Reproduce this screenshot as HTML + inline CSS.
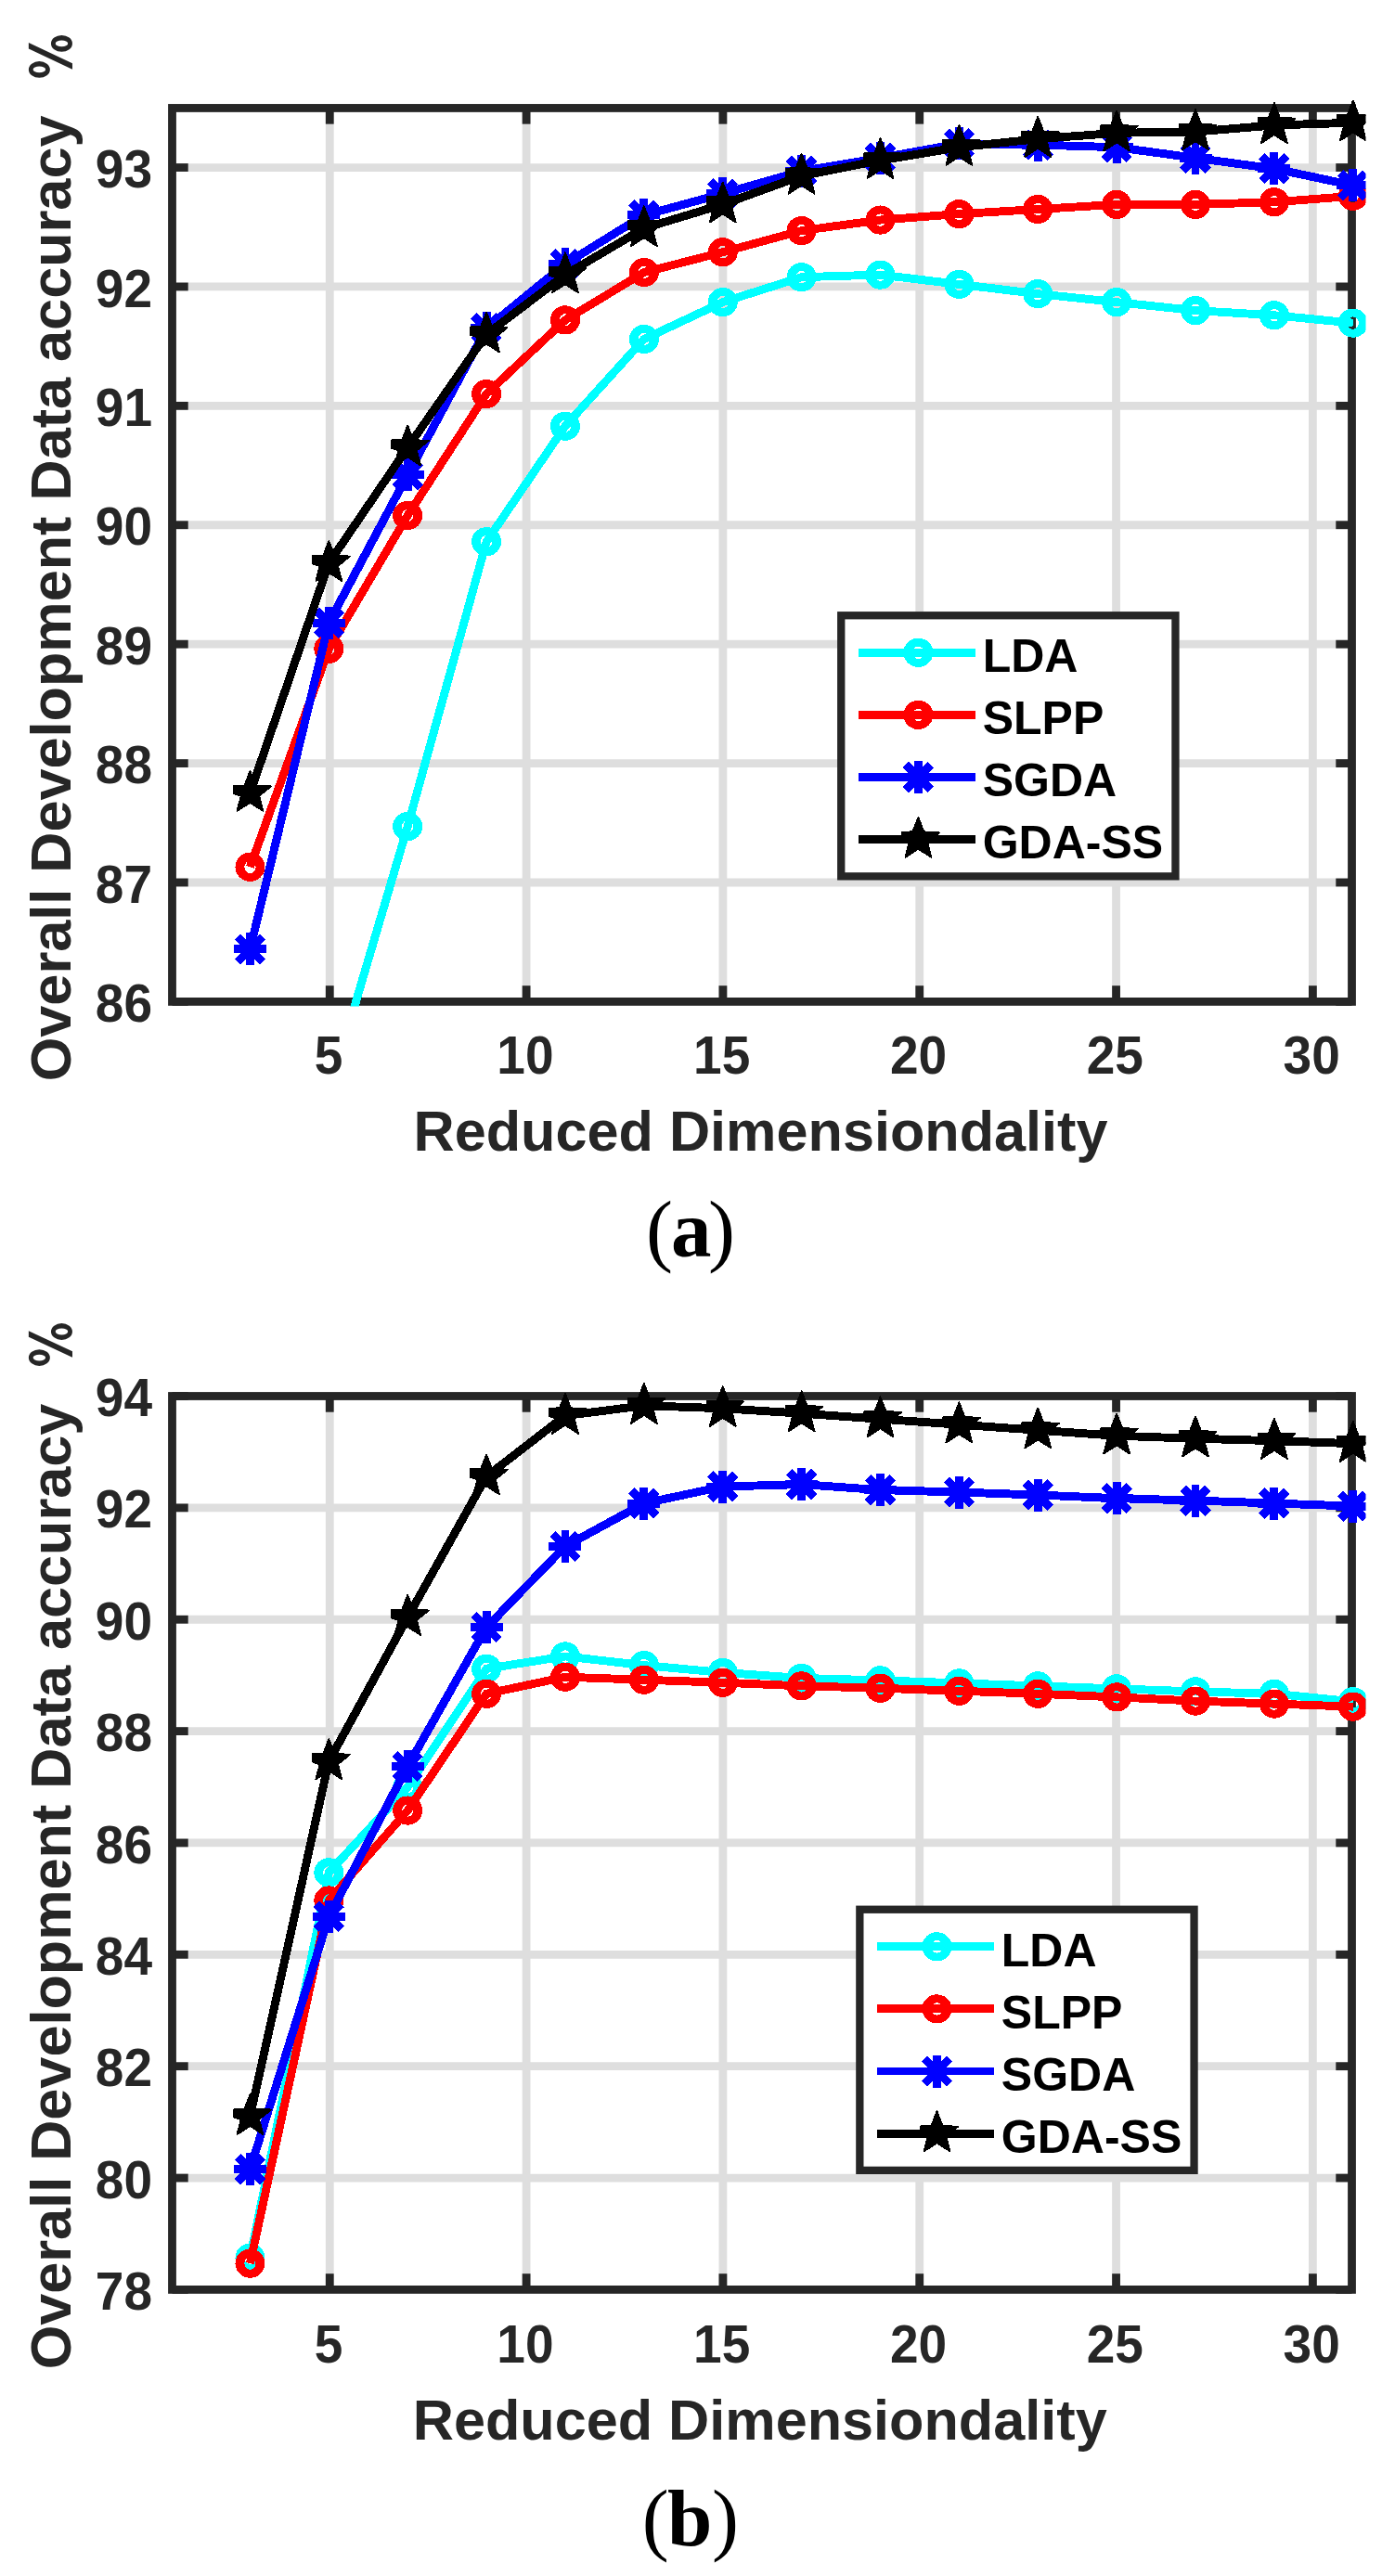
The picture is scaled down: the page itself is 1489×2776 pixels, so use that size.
<!DOCTYPE html><html><head><meta charset="utf-8"><style>html,body{margin:0;padding:0;background:#fff;overflow:hidden;width:1489px;height:2776px}svg{display:block}</style></head><body><svg width="1489" height="2776" viewBox="0 0 1489 2776">
<defs>
<clipPath id="ca"><rect x="0" y="0" width="1471.5" height="1084.5"/></clipPath>
<clipPath id="cb"><rect x="0" y="1380" width="1471.5" height="1092.3"/></clipPath>
</defs>
<style>
.tk{font-family:"Liberation Sans",sans-serif;font-weight:bold;font-size:57px;fill:#262626}
.lb{font-family:"Liberation Sans",sans-serif;font-weight:bold;font-size:61.2px;fill:#262626}
.lg{font-family:"Liberation Sans",sans-serif;font-weight:bold;font-size:50px;fill:#000}
.cap{font-family:"Liberation Serif",serif;font-size:87px;fill:#000}
</style>
<rect width="100%" height="100%" fill="#fff"/>
<line x1="355.26" y1="116.45" x2="355.26" y2="1079.4" stroke="#dedede" stroke-width="8.8"/>
<line x1="567.09" y1="116.45" x2="567.09" y2="1079.4" stroke="#dedede" stroke-width="8.8"/>
<line x1="778.91" y1="116.45" x2="778.91" y2="1079.4" stroke="#dedede" stroke-width="8.8"/>
<line x1="990.74" y1="116.45" x2="990.74" y2="1079.4" stroke="#dedede" stroke-width="8.8"/>
<line x1="1202.56" y1="116.45" x2="1202.56" y2="1079.4" stroke="#dedede" stroke-width="8.8"/>
<line x1="1414.38" y1="116.45" x2="1414.38" y2="1079.4" stroke="#dedede" stroke-width="8.8"/>
<line x1="185.5" y1="950.99" x2="1456.5" y2="950.99" stroke="#dedede" stroke-width="8.8"/>
<line x1="185.5" y1="822.58" x2="1456.5" y2="822.58" stroke="#dedede" stroke-width="8.8"/>
<line x1="185.5" y1="694.17" x2="1456.5" y2="694.17" stroke="#dedede" stroke-width="8.8"/>
<line x1="185.5" y1="565.76" x2="1456.5" y2="565.76" stroke="#dedede" stroke-width="8.8"/>
<line x1="185.5" y1="437.35" x2="1456.5" y2="437.35" stroke="#dedede" stroke-width="8.8"/>
<line x1="185.5" y1="308.94" x2="1456.5" y2="308.94" stroke="#dedede" stroke-width="8.8"/>
<line x1="185.5" y1="180.53" x2="1456.5" y2="180.53" stroke="#dedede" stroke-width="8.8"/>
<line x1="355.26" y1="1079.4" x2="355.26" y2="1062.2" stroke="#262626" stroke-width="8.8"/>
<line x1="355.26" y1="116.45" x2="355.26" y2="133.65" stroke="#262626" stroke-width="8.8"/>
<line x1="567.09" y1="1079.4" x2="567.09" y2="1062.2" stroke="#262626" stroke-width="8.8"/>
<line x1="567.09" y1="116.45" x2="567.09" y2="133.65" stroke="#262626" stroke-width="8.8"/>
<line x1="778.91" y1="1079.4" x2="778.91" y2="1062.2" stroke="#262626" stroke-width="8.8"/>
<line x1="778.91" y1="116.45" x2="778.91" y2="133.65" stroke="#262626" stroke-width="8.8"/>
<line x1="990.74" y1="1079.4" x2="990.74" y2="1062.2" stroke="#262626" stroke-width="8.8"/>
<line x1="990.74" y1="116.45" x2="990.74" y2="133.65" stroke="#262626" stroke-width="8.8"/>
<line x1="1202.56" y1="1079.4" x2="1202.56" y2="1062.2" stroke="#262626" stroke-width="8.8"/>
<line x1="1202.56" y1="116.45" x2="1202.56" y2="133.65" stroke="#262626" stroke-width="8.8"/>
<line x1="1414.38" y1="1079.4" x2="1414.38" y2="1062.2" stroke="#262626" stroke-width="8.8"/>
<line x1="1414.38" y1="116.45" x2="1414.38" y2="133.65" stroke="#262626" stroke-width="8.8"/>
<line x1="185.5" y1="1079.40" x2="202.7" y2="1079.40" stroke="#262626" stroke-width="8.8"/>
<line x1="1456.5" y1="1079.40" x2="1439.3" y2="1079.40" stroke="#262626" stroke-width="8.8"/>
<line x1="185.5" y1="950.99" x2="202.7" y2="950.99" stroke="#262626" stroke-width="8.8"/>
<line x1="1456.5" y1="950.99" x2="1439.3" y2="950.99" stroke="#262626" stroke-width="8.8"/>
<line x1="185.5" y1="822.58" x2="202.7" y2="822.58" stroke="#262626" stroke-width="8.8"/>
<line x1="1456.5" y1="822.58" x2="1439.3" y2="822.58" stroke="#262626" stroke-width="8.8"/>
<line x1="185.5" y1="694.17" x2="202.7" y2="694.17" stroke="#262626" stroke-width="8.8"/>
<line x1="1456.5" y1="694.17" x2="1439.3" y2="694.17" stroke="#262626" stroke-width="8.8"/>
<line x1="185.5" y1="565.76" x2="202.7" y2="565.76" stroke="#262626" stroke-width="8.8"/>
<line x1="1456.5" y1="565.76" x2="1439.3" y2="565.76" stroke="#262626" stroke-width="8.8"/>
<line x1="185.5" y1="437.35" x2="202.7" y2="437.35" stroke="#262626" stroke-width="8.8"/>
<line x1="1456.5" y1="437.35" x2="1439.3" y2="437.35" stroke="#262626" stroke-width="8.8"/>
<line x1="185.5" y1="308.94" x2="202.7" y2="308.94" stroke="#262626" stroke-width="8.8"/>
<line x1="1456.5" y1="308.94" x2="1439.3" y2="308.94" stroke="#262626" stroke-width="8.8"/>
<line x1="185.5" y1="180.53" x2="202.7" y2="180.53" stroke="#262626" stroke-width="8.8"/>
<line x1="1456.5" y1="180.53" x2="1439.3" y2="180.53" stroke="#262626" stroke-width="8.8"/>
<rect x="185.5" y="116.45" width="1271.0" height="962.95" fill="none" stroke="#262626" stroke-width="8.8"/>
<text transform="translate(164,1101.00) scale(0.965,1.017)" text-anchor="end" class="tk">86</text>
<text transform="translate(164,972.59) scale(0.965,1.017)" text-anchor="end" class="tk">87</text>
<text transform="translate(164,844.18) scale(0.965,1.017)" text-anchor="end" class="tk">88</text>
<text transform="translate(164,715.77) scale(0.965,1.017)" text-anchor="end" class="tk">89</text>
<text transform="translate(164,587.36) scale(0.965,1.017)" text-anchor="end" class="tk">90</text>
<text transform="translate(164,458.95) scale(0.965,1.017)" text-anchor="end" class="tk">91</text>
<text transform="translate(164,330.54) scale(0.965,1.017)" text-anchor="end" class="tk">92</text>
<text transform="translate(164,202.13) scale(0.965,1.017)" text-anchor="end" class="tk">93</text>
<text transform="translate(354.06,1156.60) scale(0.965,1.017)" text-anchor="middle" class="tk">5</text>
<text transform="translate(565.88,1156.60) scale(0.965,1.017)" text-anchor="middle" class="tk">10</text>
<text transform="translate(777.71,1156.60) scale(0.965,1.017)" text-anchor="middle" class="tk">15</text>
<text transform="translate(989.54,1156.60) scale(0.965,1.017)" text-anchor="middle" class="tk">20</text>
<text transform="translate(1201.36,1156.60) scale(0.965,1.017)" text-anchor="middle" class="tk">25</text>
<text transform="translate(1413.18,1156.60) scale(0.965,1.017)" text-anchor="middle" class="tk">30</text>
<g clip-path="url(#ca)" shape-rendering="crispEdges"><path d="M269.45 1464.63 L354.33 1178.28 L439.21 890.64 L524.09 583.74 L608.97 459.18 L693.85 365.44 L778.73 325.63 L863.61 298.67 L948.49 296.10 L1033.37 306.37 L1118.25 316.64 L1203.13 325.63 L1288.01 334.62 L1372.89 339.76 L1457.77 348.11" fill="none" stroke="#00ffff" stroke-width="8.9" stroke-linejoin="miter" stroke-miterlimit="10"/>
<path d="M253.45 1464.63A16.0 15.6 0 1 0 285.45 1464.63A16.0 15.6 0 1 0 253.45 1464.63ZM263.35 1464.63A6.1 6.7 0 1 0 275.55 1464.63A6.1 6.7 0 1 0 263.35 1464.63Z" fill="#00ffff" fill-rule="evenodd"/>
<path d="M338.33 1178.28A16.0 15.6 0 1 0 370.33 1178.28A16.0 15.6 0 1 0 338.33 1178.28ZM348.23 1178.28A6.1 6.7 0 1 0 360.43 1178.28A6.1 6.7 0 1 0 348.23 1178.28Z" fill="#00ffff" fill-rule="evenodd"/>
<path d="M423.21 890.64A16.0 15.6 0 1 0 455.21 890.64A16.0 15.6 0 1 0 423.21 890.64ZM433.11 890.64A6.1 6.7 0 1 0 445.31 890.64A6.1 6.7 0 1 0 433.11 890.64Z" fill="#00ffff" fill-rule="evenodd"/>
<path d="M508.09 583.74A16.0 15.6 0 1 0 540.09 583.74A16.0 15.6 0 1 0 508.09 583.74ZM517.99 583.74A6.1 6.7 0 1 0 530.19 583.74A6.1 6.7 0 1 0 517.99 583.74Z" fill="#00ffff" fill-rule="evenodd"/>
<path d="M592.97 459.18A16.0 15.6 0 1 0 624.97 459.18A16.0 15.6 0 1 0 592.97 459.18ZM602.87 459.18A6.1 6.7 0 1 0 615.07 459.18A6.1 6.7 0 1 0 602.87 459.18Z" fill="#00ffff" fill-rule="evenodd"/>
<path d="M677.85 365.44A16.0 15.6 0 1 0 709.85 365.44A16.0 15.6 0 1 0 677.85 365.44ZM687.75 365.44A6.1 6.7 0 1 0 699.95 365.44A6.1 6.7 0 1 0 687.75 365.44Z" fill="#00ffff" fill-rule="evenodd"/>
<path d="M762.73 325.63A16.0 15.6 0 1 0 794.73 325.63A16.0 15.6 0 1 0 762.73 325.63ZM772.63 325.63A6.1 6.7 0 1 0 784.83 325.63A6.1 6.7 0 1 0 772.63 325.63Z" fill="#00ffff" fill-rule="evenodd"/>
<path d="M847.61 298.67A16.0 15.6 0 1 0 879.61 298.67A16.0 15.6 0 1 0 847.61 298.67ZM857.51 298.67A6.1 6.7 0 1 0 869.71 298.67A6.1 6.7 0 1 0 857.51 298.67Z" fill="#00ffff" fill-rule="evenodd"/>
<path d="M932.49 296.10A16.0 15.6 0 1 0 964.49 296.10A16.0 15.6 0 1 0 932.49 296.10ZM942.39 296.10A6.1 6.7 0 1 0 954.59 296.10A6.1 6.7 0 1 0 942.39 296.10Z" fill="#00ffff" fill-rule="evenodd"/>
<path d="M1017.37 306.37A16.0 15.6 0 1 0 1049.37 306.37A16.0 15.6 0 1 0 1017.37 306.37ZM1027.27 306.37A6.1 6.7 0 1 0 1039.47 306.37A6.1 6.7 0 1 0 1027.27 306.37Z" fill="#00ffff" fill-rule="evenodd"/>
<path d="M1102.25 316.64A16.0 15.6 0 1 0 1134.25 316.64A16.0 15.6 0 1 0 1102.25 316.64ZM1112.15 316.64A6.1 6.7 0 1 0 1124.35 316.64A6.1 6.7 0 1 0 1112.15 316.64Z" fill="#00ffff" fill-rule="evenodd"/>
<path d="M1187.13 325.63A16.0 15.6 0 1 0 1219.13 325.63A16.0 15.6 0 1 0 1187.13 325.63ZM1197.03 325.63A6.1 6.7 0 1 0 1209.23 325.63A6.1 6.7 0 1 0 1197.03 325.63Z" fill="#00ffff" fill-rule="evenodd"/>
<path d="M1272.01 334.62A16.0 15.6 0 1 0 1304.01 334.62A16.0 15.6 0 1 0 1272.01 334.62ZM1281.91 334.62A6.1 6.7 0 1 0 1294.11 334.62A6.1 6.7 0 1 0 1281.91 334.62Z" fill="#00ffff" fill-rule="evenodd"/>
<path d="M1356.89 339.76A16.0 15.6 0 1 0 1388.89 339.76A16.0 15.6 0 1 0 1356.89 339.76ZM1366.79 339.76A6.1 6.7 0 1 0 1378.99 339.76A6.1 6.7 0 1 0 1366.79 339.76Z" fill="#00ffff" fill-rule="evenodd"/>
<path d="M1441.77 348.11A16.0 15.6 0 1 0 1473.77 348.11A16.0 15.6 0 1 0 1441.77 348.11ZM1451.67 348.11A6.1 6.7 0 1 0 1463.87 348.11A6.1 6.7 0 1 0 1451.67 348.11Z" fill="#00ffff" fill-rule="evenodd"/>
<path d="M269.45 934.30 L354.33 699.31 L439.21 555.49 L524.09 424.51 L608.97 344.89 L693.85 293.53 L778.73 271.70 L863.61 248.59 L948.49 237.03 L1033.37 230.61 L1118.25 225.47 L1203.13 220.34 L1288.01 220.34 L1372.89 217.77 L1457.77 211.35" fill="none" stroke="#ff0000" stroke-width="8.9" stroke-linejoin="miter" stroke-miterlimit="10"/>
<path d="M253.45 934.30A16.0 15.6 0 1 0 285.45 934.30A16.0 15.6 0 1 0 253.45 934.30ZM263.35 934.30A6.1 6.7 0 1 0 275.55 934.30A6.1 6.7 0 1 0 263.35 934.30Z" fill="#ff0000" fill-rule="evenodd"/>
<path d="M338.33 699.31A16.0 15.6 0 1 0 370.33 699.31A16.0 15.6 0 1 0 338.33 699.31ZM348.23 699.31A6.1 6.7 0 1 0 360.43 699.31A6.1 6.7 0 1 0 348.23 699.31Z" fill="#ff0000" fill-rule="evenodd"/>
<path d="M423.21 555.49A16.0 15.6 0 1 0 455.21 555.49A16.0 15.6 0 1 0 423.21 555.49ZM433.11 555.49A6.1 6.7 0 1 0 445.31 555.49A6.1 6.7 0 1 0 433.11 555.49Z" fill="#ff0000" fill-rule="evenodd"/>
<path d="M508.09 424.51A16.0 15.6 0 1 0 540.09 424.51A16.0 15.6 0 1 0 508.09 424.51ZM517.99 424.51A6.1 6.7 0 1 0 530.19 424.51A6.1 6.7 0 1 0 517.99 424.51Z" fill="#ff0000" fill-rule="evenodd"/>
<path d="M592.97 344.89A16.0 15.6 0 1 0 624.97 344.89A16.0 15.6 0 1 0 592.97 344.89ZM602.87 344.89A6.1 6.7 0 1 0 615.07 344.89A6.1 6.7 0 1 0 602.87 344.89Z" fill="#ff0000" fill-rule="evenodd"/>
<path d="M677.85 293.53A16.0 15.6 0 1 0 709.85 293.53A16.0 15.6 0 1 0 677.85 293.53ZM687.75 293.53A6.1 6.7 0 1 0 699.95 293.53A6.1 6.7 0 1 0 687.75 293.53Z" fill="#ff0000" fill-rule="evenodd"/>
<path d="M762.73 271.70A16.0 15.6 0 1 0 794.73 271.70A16.0 15.6 0 1 0 762.73 271.70ZM772.63 271.70A6.1 6.7 0 1 0 784.83 271.70A6.1 6.7 0 1 0 772.63 271.70Z" fill="#ff0000" fill-rule="evenodd"/>
<path d="M847.61 248.59A16.0 15.6 0 1 0 879.61 248.59A16.0 15.6 0 1 0 847.61 248.59ZM857.51 248.59A6.1 6.7 0 1 0 869.71 248.59A6.1 6.7 0 1 0 857.51 248.59Z" fill="#ff0000" fill-rule="evenodd"/>
<path d="M932.49 237.03A16.0 15.6 0 1 0 964.49 237.03A16.0 15.6 0 1 0 932.49 237.03ZM942.39 237.03A6.1 6.7 0 1 0 954.59 237.03A6.1 6.7 0 1 0 942.39 237.03Z" fill="#ff0000" fill-rule="evenodd"/>
<path d="M1017.37 230.61A16.0 15.6 0 1 0 1049.37 230.61A16.0 15.6 0 1 0 1017.37 230.61ZM1027.27 230.61A6.1 6.7 0 1 0 1039.47 230.61A6.1 6.7 0 1 0 1027.27 230.61Z" fill="#ff0000" fill-rule="evenodd"/>
<path d="M1102.25 225.47A16.0 15.6 0 1 0 1134.25 225.47A16.0 15.6 0 1 0 1102.25 225.47ZM1112.15 225.47A6.1 6.7 0 1 0 1124.35 225.47A6.1 6.7 0 1 0 1112.15 225.47Z" fill="#ff0000" fill-rule="evenodd"/>
<path d="M1187.13 220.34A16.0 15.6 0 1 0 1219.13 220.34A16.0 15.6 0 1 0 1187.13 220.34ZM1197.03 220.34A6.1 6.7 0 1 0 1209.23 220.34A6.1 6.7 0 1 0 1197.03 220.34Z" fill="#ff0000" fill-rule="evenodd"/>
<path d="M1272.01 220.34A16.0 15.6 0 1 0 1304.01 220.34A16.0 15.6 0 1 0 1272.01 220.34ZM1281.91 220.34A6.1 6.7 0 1 0 1294.11 220.34A6.1 6.7 0 1 0 1281.91 220.34Z" fill="#ff0000" fill-rule="evenodd"/>
<path d="M1356.89 217.77A16.0 15.6 0 1 0 1388.89 217.77A16.0 15.6 0 1 0 1356.89 217.77ZM1366.79 217.77A6.1 6.7 0 1 0 1378.99 217.77A6.1 6.7 0 1 0 1366.79 217.77Z" fill="#ff0000" fill-rule="evenodd"/>
<path d="M1441.77 211.35A16.0 15.6 0 1 0 1473.77 211.35A16.0 15.6 0 1 0 1441.77 211.35ZM1451.67 211.35A6.1 6.7 0 1 0 1463.87 211.35A6.1 6.7 0 1 0 1451.67 211.35Z" fill="#ff0000" fill-rule="evenodd"/>
<path d="M269.45 1022.90 L354.33 671.06 L439.21 511.83 L524.09 353.88 L608.97 284.54 L693.85 231.89 L778.73 208.78 L863.61 184.38 L948.49 170.26 L1033.37 154.85 L1118.25 156.13 L1203.13 158.70 L1288.01 170.26 L1372.89 181.81 L1457.77 199.79" fill="none" stroke="#0000ff" stroke-width="8.9" stroke-linejoin="miter" stroke-miterlimit="10"/>
<path d="M269.45 1005.40V1040.40M251.95 1022.90H286.95M255.94 1009.39L282.96 1036.41M255.94 1036.41L282.96 1009.39" stroke="#0000ff" stroke-width="8.9" fill="none"/>
<path d="M354.33 653.56V688.56M336.83 671.06H371.83M340.82 657.55L367.84 684.56M340.82 684.56L367.84 657.55" stroke="#0000ff" stroke-width="8.9" fill="none"/>
<path d="M439.21 494.33V529.33M421.71 511.83H456.71M425.70 498.32L452.72 525.33M425.70 525.33L452.72 498.32" stroke="#0000ff" stroke-width="8.9" fill="none"/>
<path d="M524.09 336.38V371.38M506.59 353.88H541.59M510.58 340.38L537.60 367.39M510.58 367.39L537.60 340.38" stroke="#0000ff" stroke-width="8.9" fill="none"/>
<path d="M608.97 267.04V302.04M591.47 284.54H626.47M595.46 271.04L622.48 298.05M595.46 298.05L622.48 271.04" stroke="#0000ff" stroke-width="8.9" fill="none"/>
<path d="M693.85 214.39V249.39M676.35 231.89H711.35M680.34 218.39L707.36 245.40M680.34 245.40L707.36 218.39" stroke="#0000ff" stroke-width="8.9" fill="none"/>
<path d="M778.73 191.28V226.28M761.23 208.78H796.23M765.22 195.27L792.24 222.29M765.22 222.29L792.24 195.27" stroke="#0000ff" stroke-width="8.9" fill="none"/>
<path d="M863.61 166.88V201.88M846.11 184.38H881.11M850.10 170.88L877.12 197.89M850.10 197.89L877.12 170.88" stroke="#0000ff" stroke-width="8.9" fill="none"/>
<path d="M948.49 152.76V187.76M930.99 170.26H965.99M934.98 156.75L962.00 183.76M934.98 183.76L962.00 156.75" stroke="#0000ff" stroke-width="8.9" fill="none"/>
<path d="M1033.37 137.35V172.35M1015.87 154.85H1050.87M1019.86 141.34L1046.88 168.35M1019.86 168.35L1046.88 141.34" stroke="#0000ff" stroke-width="8.9" fill="none"/>
<path d="M1118.25 138.63V173.63M1100.75 156.13H1135.75M1104.74 142.63L1131.76 169.64M1104.74 169.64L1131.76 142.63" stroke="#0000ff" stroke-width="8.9" fill="none"/>
<path d="M1203.13 141.20V176.20M1185.63 158.70H1220.63M1189.62 145.19L1216.64 172.21M1189.62 172.21L1216.64 145.19" stroke="#0000ff" stroke-width="8.9" fill="none"/>
<path d="M1288.01 152.76V187.76M1270.51 170.26H1305.51M1274.50 156.75L1301.52 183.76M1274.50 183.76L1301.52 156.75" stroke="#0000ff" stroke-width="8.9" fill="none"/>
<path d="M1372.89 164.31V199.31M1355.39 181.81H1390.39M1359.38 168.31L1386.40 195.32M1359.38 195.32L1386.40 168.31" stroke="#0000ff" stroke-width="8.9" fill="none"/>
<path d="M1457.77 182.29V217.29M1440.27 199.79H1475.27M1444.26 186.29L1471.28 213.30M1444.26 213.30L1471.28 186.29" stroke="#0000ff" stroke-width="8.9" fill="none"/>
<path d="M269.45 854.68 L354.33 606.85 L439.21 482.29 L524.09 360.30 L608.97 296.10 L693.85 246.02 L778.73 220.34 L863.61 189.52 L948.49 172.83 L1033.37 158.70 L1118.25 149.71 L1203.13 143.29 L1288.01 142.01 L1372.89 134.94 L1457.77 132.25" fill="none" stroke="#000000" stroke-width="8.9" stroke-linejoin="miter" stroke-miterlimit="10"/>
<polygon points="269.45,830.88 275.47,846.40 292.09,847.33 279.18,857.84 283.44,873.94 269.45,864.92 255.46,873.94 259.72,857.84 252.31,855.40 252.31,846.71 263.43,846.40" fill="#000000" stroke="#000000" stroke-width="1.8" stroke-linejoin="round"/>
<polygon points="354.33,583.05 360.35,598.57 376.97,599.50 364.06,610.01 368.32,626.11 354.33,617.09 340.34,626.11 344.60,610.01 337.19,607.57 337.19,598.88 348.31,598.57" fill="#000000" stroke="#000000" stroke-width="1.8" stroke-linejoin="round"/>
<polygon points="439.21,458.49 445.23,474.01 461.85,474.94 448.94,485.46 453.20,501.55 439.21,492.53 425.22,501.55 429.48,485.46 422.07,483.01 422.07,474.32 433.19,474.01" fill="#000000" stroke="#000000" stroke-width="1.8" stroke-linejoin="round"/>
<polygon points="524.09,336.50 530.11,352.02 546.73,352.95 533.82,363.47 538.08,379.56 524.09,370.54 510.10,379.56 514.36,363.47 506.95,361.02 506.95,352.33 518.07,352.02" fill="#000000" stroke="#000000" stroke-width="1.8" stroke-linejoin="round"/>
<polygon points="608.97,272.30 614.99,287.82 631.61,288.74 618.70,299.26 622.96,315.35 608.97,306.33 594.98,315.35 599.24,299.26 591.83,296.81 591.83,288.13 602.95,287.82" fill="#000000" stroke="#000000" stroke-width="1.8" stroke-linejoin="round"/>
<polygon points="693.85,222.22 699.87,237.74 716.49,238.66 703.58,249.18 707.84,265.27 693.85,256.25 679.86,265.27 684.12,249.18 676.71,246.73 676.71,238.05 687.83,237.74" fill="#000000" stroke="#000000" stroke-width="1.8" stroke-linejoin="round"/>
<polygon points="778.73,196.54 784.75,212.06 801.37,212.98 788.46,223.50 792.72,239.59 778.73,230.57 764.74,239.59 769.00,223.50 761.59,221.05 761.59,212.36 772.71,212.06" fill="#000000" stroke="#000000" stroke-width="1.8" stroke-linejoin="round"/>
<polygon points="863.61,165.72 869.63,181.24 886.25,182.16 873.34,192.68 877.60,208.77 863.61,199.75 849.62,208.77 853.88,192.68 846.47,190.23 846.47,181.55 857.59,181.24" fill="#000000" stroke="#000000" stroke-width="1.8" stroke-linejoin="round"/>
<polygon points="948.49,149.03 954.51,164.55 971.13,165.47 958.22,175.99 962.48,192.08 948.49,183.06 934.50,192.08 938.76,175.99 931.35,173.54 931.35,164.85 942.47,164.55" fill="#000000" stroke="#000000" stroke-width="1.8" stroke-linejoin="round"/>
<polygon points="1033.37,134.90 1039.39,150.42 1056.01,151.35 1043.10,161.86 1047.36,177.95 1033.37,168.93 1019.38,177.95 1023.64,161.86 1016.23,159.41 1016.23,150.73 1027.35,150.42" fill="#000000" stroke="#000000" stroke-width="1.8" stroke-linejoin="round"/>
<polygon points="1118.25,125.91 1124.27,141.43 1140.89,142.36 1127.98,152.87 1132.24,168.97 1118.25,159.95 1104.26,168.97 1108.52,152.87 1101.11,150.43 1101.11,141.74 1112.23,141.43" fill="#000000" stroke="#000000" stroke-width="1.8" stroke-linejoin="round"/>
<polygon points="1203.13,119.49 1209.15,135.01 1225.77,135.94 1212.86,146.45 1217.12,162.55 1203.13,153.53 1189.14,162.55 1193.40,146.45 1185.99,144.01 1185.99,135.32 1197.11,135.01" fill="#000000" stroke="#000000" stroke-width="1.8" stroke-linejoin="round"/>
<polygon points="1288.01,118.21 1294.03,133.73 1310.65,134.65 1297.74,145.17 1302.00,161.26 1288.01,152.24 1274.02,161.26 1278.28,145.17 1270.87,142.72 1270.87,134.03 1281.99,133.73" fill="#000000" stroke="#000000" stroke-width="1.8" stroke-linejoin="round"/>
<polygon points="1372.89,111.14 1378.91,126.66 1395.53,127.59 1382.62,138.11 1386.88,154.20 1372.89,145.18 1358.90,154.20 1363.16,138.11 1355.75,135.66 1355.75,126.97 1366.87,126.66" fill="#000000" stroke="#000000" stroke-width="1.8" stroke-linejoin="round"/>
<polygon points="1457.77,108.45 1463.79,123.97 1480.41,124.89 1467.50,135.41 1471.76,151.50 1457.77,142.48 1443.78,151.50 1448.04,135.41 1440.63,132.96 1440.63,124.27 1451.75,123.97" fill="#000000" stroke="#000000" stroke-width="1.8" stroke-linejoin="round"/></g>
<rect x="906.25" y="663.25" width="360.20" height="281.10" fill="#fff" stroke="#262626" stroke-width="8.3"/>
<g shape-rendering="crispEdges"><line x1="925.1" y1="703.30" x2="1051.1" y2="703.30" stroke="#00ffff" stroke-width="8.9"/>
<path d="M973.40 703.30A16.0 15.6 0 1 0 1005.40 703.30A16.0 15.6 0 1 0 973.40 703.30ZM983.30 703.30A6.1 6.7 0 1 0 995.50 703.30A6.1 6.7 0 1 0 983.30 703.30Z" fill="#00ffff" fill-rule="evenodd"/></g>
<text x="1058.70" y="724.10" class="lg">LDA</text>
<g shape-rendering="crispEdges"><line x1="925.1" y1="770.40" x2="1051.1" y2="770.40" stroke="#ff0000" stroke-width="8.9"/>
<path d="M973.40 770.40A16.0 15.6 0 1 0 1005.40 770.40A16.0 15.6 0 1 0 973.40 770.40ZM983.30 770.40A6.1 6.7 0 1 0 995.50 770.40A6.1 6.7 0 1 0 983.30 770.40Z" fill="#ff0000" fill-rule="evenodd"/></g>
<text x="1058.70" y="791.20" class="lg">SLPP</text>
<g shape-rendering="crispEdges"><line x1="925.1" y1="837.50" x2="1051.1" y2="837.50" stroke="#0000ff" stroke-width="8.9"/>
<path d="M989.40 820.00V855.00M971.90 837.50H1006.90M975.89 823.99L1002.91 851.01M975.89 851.01L1002.91 823.99" stroke="#0000ff" stroke-width="8.9" fill="none"/></g>
<text x="1058.70" y="858.30" class="lg">SGDA</text>
<g shape-rendering="crispEdges"><line x1="925.1" y1="904.60" x2="1051.1" y2="904.60" stroke="#000000" stroke-width="8.9"/>
<polygon points="989.40,880.80 995.42,896.32 1012.04,897.25 999.13,907.76 1003.39,923.85 989.40,914.83 975.41,923.85 979.67,907.76 972.26,905.31 972.26,896.63 983.38,896.32" fill="#000000" stroke="#000000" stroke-width="1.8" stroke-linejoin="round"/></g>
<text x="1058.70" y="925.40" class="lg">GDA-SS</text>
<line x1="355.26" y1="1504.5" x2="355.26" y2="2467.4" stroke="#dedede" stroke-width="8.8"/>
<line x1="567.09" y1="1504.5" x2="567.09" y2="2467.4" stroke="#dedede" stroke-width="8.8"/>
<line x1="778.91" y1="1504.5" x2="778.91" y2="2467.4" stroke="#dedede" stroke-width="8.8"/>
<line x1="990.74" y1="1504.5" x2="990.74" y2="2467.4" stroke="#dedede" stroke-width="8.8"/>
<line x1="1202.56" y1="1504.5" x2="1202.56" y2="2467.4" stroke="#dedede" stroke-width="8.8"/>
<line x1="1414.38" y1="1504.5" x2="1414.38" y2="2467.4" stroke="#dedede" stroke-width="8.8"/>
<line x1="185.5" y1="2347.04" x2="1456.5" y2="2347.04" stroke="#dedede" stroke-width="8.8"/>
<line x1="185.5" y1="2226.68" x2="1456.5" y2="2226.68" stroke="#dedede" stroke-width="8.8"/>
<line x1="185.5" y1="2106.32" x2="1456.5" y2="2106.32" stroke="#dedede" stroke-width="8.8"/>
<line x1="185.5" y1="1985.96" x2="1456.5" y2="1985.96" stroke="#dedede" stroke-width="8.8"/>
<line x1="185.5" y1="1865.60" x2="1456.5" y2="1865.60" stroke="#dedede" stroke-width="8.8"/>
<line x1="185.5" y1="1745.24" x2="1456.5" y2="1745.24" stroke="#dedede" stroke-width="8.8"/>
<line x1="185.5" y1="1624.88" x2="1456.5" y2="1624.88" stroke="#dedede" stroke-width="8.8"/>
<line x1="355.26" y1="2467.4" x2="355.26" y2="2450.2000000000003" stroke="#262626" stroke-width="8.8"/>
<line x1="355.26" y1="1504.5" x2="355.26" y2="1521.7" stroke="#262626" stroke-width="8.8"/>
<line x1="567.09" y1="2467.4" x2="567.09" y2="2450.2000000000003" stroke="#262626" stroke-width="8.8"/>
<line x1="567.09" y1="1504.5" x2="567.09" y2="1521.7" stroke="#262626" stroke-width="8.8"/>
<line x1="778.91" y1="2467.4" x2="778.91" y2="2450.2000000000003" stroke="#262626" stroke-width="8.8"/>
<line x1="778.91" y1="1504.5" x2="778.91" y2="1521.7" stroke="#262626" stroke-width="8.8"/>
<line x1="990.74" y1="2467.4" x2="990.74" y2="2450.2000000000003" stroke="#262626" stroke-width="8.8"/>
<line x1="990.74" y1="1504.5" x2="990.74" y2="1521.7" stroke="#262626" stroke-width="8.8"/>
<line x1="1202.56" y1="2467.4" x2="1202.56" y2="2450.2000000000003" stroke="#262626" stroke-width="8.8"/>
<line x1="1202.56" y1="1504.5" x2="1202.56" y2="1521.7" stroke="#262626" stroke-width="8.8"/>
<line x1="1414.38" y1="2467.4" x2="1414.38" y2="2450.2000000000003" stroke="#262626" stroke-width="8.8"/>
<line x1="1414.38" y1="1504.5" x2="1414.38" y2="1521.7" stroke="#262626" stroke-width="8.8"/>
<line x1="185.5" y1="2467.40" x2="202.7" y2="2467.40" stroke="#262626" stroke-width="8.8"/>
<line x1="1456.5" y1="2467.40" x2="1439.3" y2="2467.40" stroke="#262626" stroke-width="8.8"/>
<line x1="185.5" y1="2347.04" x2="202.7" y2="2347.04" stroke="#262626" stroke-width="8.8"/>
<line x1="1456.5" y1="2347.04" x2="1439.3" y2="2347.04" stroke="#262626" stroke-width="8.8"/>
<line x1="185.5" y1="2226.68" x2="202.7" y2="2226.68" stroke="#262626" stroke-width="8.8"/>
<line x1="1456.5" y1="2226.68" x2="1439.3" y2="2226.68" stroke="#262626" stroke-width="8.8"/>
<line x1="185.5" y1="2106.32" x2="202.7" y2="2106.32" stroke="#262626" stroke-width="8.8"/>
<line x1="1456.5" y1="2106.32" x2="1439.3" y2="2106.32" stroke="#262626" stroke-width="8.8"/>
<line x1="185.5" y1="1985.96" x2="202.7" y2="1985.96" stroke="#262626" stroke-width="8.8"/>
<line x1="1456.5" y1="1985.96" x2="1439.3" y2="1985.96" stroke="#262626" stroke-width="8.8"/>
<line x1="185.5" y1="1865.60" x2="202.7" y2="1865.60" stroke="#262626" stroke-width="8.8"/>
<line x1="1456.5" y1="1865.60" x2="1439.3" y2="1865.60" stroke="#262626" stroke-width="8.8"/>
<line x1="185.5" y1="1745.24" x2="202.7" y2="1745.24" stroke="#262626" stroke-width="8.8"/>
<line x1="1456.5" y1="1745.24" x2="1439.3" y2="1745.24" stroke="#262626" stroke-width="8.8"/>
<line x1="185.5" y1="1624.88" x2="202.7" y2="1624.88" stroke="#262626" stroke-width="8.8"/>
<line x1="1456.5" y1="1624.88" x2="1439.3" y2="1624.88" stroke="#262626" stroke-width="8.8"/>
<line x1="185.5" y1="1504.52" x2="202.7" y2="1504.52" stroke="#262626" stroke-width="8.8"/>
<line x1="1456.5" y1="1504.52" x2="1439.3" y2="1504.52" stroke="#262626" stroke-width="8.8"/>
<rect x="185.5" y="1504.5" width="1271.0" height="962.90" fill="none" stroke="#262626" stroke-width="8.8"/>
<text transform="translate(164,2489.00) scale(0.965,1.017)" text-anchor="end" class="tk">78</text>
<text transform="translate(164,2368.64) scale(0.965,1.017)" text-anchor="end" class="tk">80</text>
<text transform="translate(164,2248.28) scale(0.965,1.017)" text-anchor="end" class="tk">82</text>
<text transform="translate(164,2127.92) scale(0.965,1.017)" text-anchor="end" class="tk">84</text>
<text transform="translate(164,2007.56) scale(0.965,1.017)" text-anchor="end" class="tk">86</text>
<text transform="translate(164,1887.20) scale(0.965,1.017)" text-anchor="end" class="tk">88</text>
<text transform="translate(164,1766.84) scale(0.965,1.017)" text-anchor="end" class="tk">90</text>
<text transform="translate(164,1646.48) scale(0.965,1.017)" text-anchor="end" class="tk">92</text>
<text transform="translate(164,1526.12) scale(0.965,1.017)" text-anchor="end" class="tk">94</text>
<text transform="translate(354.06,2545.60) scale(0.965,1.017)" text-anchor="middle" class="tk">5</text>
<text transform="translate(565.88,2545.60) scale(0.965,1.017)" text-anchor="middle" class="tk">10</text>
<text transform="translate(777.71,2545.60) scale(0.965,1.017)" text-anchor="middle" class="tk">15</text>
<text transform="translate(989.54,2545.60) scale(0.965,1.017)" text-anchor="middle" class="tk">20</text>
<text transform="translate(1201.36,2545.60) scale(0.965,1.017)" text-anchor="middle" class="tk">25</text>
<text transform="translate(1413.18,2545.60) scale(0.965,1.017)" text-anchor="middle" class="tk">30</text>
<g clip-path="url(#cb)" shape-rendering="crispEdges"><path d="M269.45 2433.10 L354.33 2017.86 L439.21 1925.78 L524.09 1798.20 L608.97 1784.96 L693.85 1794.59 L778.73 1802.41 L863.61 1808.43 L948.49 1810.84 L1033.37 1813.85 L1118.25 1816.85 L1203.13 1819.86 L1288.01 1822.87 L1372.89 1825.28 L1457.77 1833.70" fill="none" stroke="#00ffff" stroke-width="8.9" stroke-linejoin="miter" stroke-miterlimit="10"/>
<path d="M253.45 2433.10A16.0 15.6 0 1 0 285.45 2433.10A16.0 15.6 0 1 0 253.45 2433.10ZM263.35 2433.10A6.1 6.7 0 1 0 275.55 2433.10A6.1 6.7 0 1 0 263.35 2433.10Z" fill="#00ffff" fill-rule="evenodd"/>
<path d="M338.33 2017.86A16.0 15.6 0 1 0 370.33 2017.86A16.0 15.6 0 1 0 338.33 2017.86ZM348.23 2017.86A6.1 6.7 0 1 0 360.43 2017.86A6.1 6.7 0 1 0 348.23 2017.86Z" fill="#00ffff" fill-rule="evenodd"/>
<path d="M423.21 1925.78A16.0 15.6 0 1 0 455.21 1925.78A16.0 15.6 0 1 0 423.21 1925.78ZM433.11 1925.78A6.1 6.7 0 1 0 445.31 1925.78A6.1 6.7 0 1 0 433.11 1925.78Z" fill="#00ffff" fill-rule="evenodd"/>
<path d="M508.09 1798.20A16.0 15.6 0 1 0 540.09 1798.20A16.0 15.6 0 1 0 508.09 1798.20ZM517.99 1798.20A6.1 6.7 0 1 0 530.19 1798.20A6.1 6.7 0 1 0 517.99 1798.20Z" fill="#00ffff" fill-rule="evenodd"/>
<path d="M592.97 1784.96A16.0 15.6 0 1 0 624.97 1784.96A16.0 15.6 0 1 0 592.97 1784.96ZM602.87 1784.96A6.1 6.7 0 1 0 615.07 1784.96A6.1 6.7 0 1 0 602.87 1784.96Z" fill="#00ffff" fill-rule="evenodd"/>
<path d="M677.85 1794.59A16.0 15.6 0 1 0 709.85 1794.59A16.0 15.6 0 1 0 677.85 1794.59ZM687.75 1794.59A6.1 6.7 0 1 0 699.95 1794.59A6.1 6.7 0 1 0 687.75 1794.59Z" fill="#00ffff" fill-rule="evenodd"/>
<path d="M762.73 1802.41A16.0 15.6 0 1 0 794.73 1802.41A16.0 15.6 0 1 0 762.73 1802.41ZM772.63 1802.41A6.1 6.7 0 1 0 784.83 1802.41A6.1 6.7 0 1 0 772.63 1802.41Z" fill="#00ffff" fill-rule="evenodd"/>
<path d="M847.61 1808.43A16.0 15.6 0 1 0 879.61 1808.43A16.0 15.6 0 1 0 847.61 1808.43ZM857.51 1808.43A6.1 6.7 0 1 0 869.71 1808.43A6.1 6.7 0 1 0 857.51 1808.43Z" fill="#00ffff" fill-rule="evenodd"/>
<path d="M932.49 1810.84A16.0 15.6 0 1 0 964.49 1810.84A16.0 15.6 0 1 0 932.49 1810.84ZM942.39 1810.84A6.1 6.7 0 1 0 954.59 1810.84A6.1 6.7 0 1 0 942.39 1810.84Z" fill="#00ffff" fill-rule="evenodd"/>
<path d="M1017.37 1813.85A16.0 15.6 0 1 0 1049.37 1813.85A16.0 15.6 0 1 0 1017.37 1813.85ZM1027.27 1813.85A6.1 6.7 0 1 0 1039.47 1813.85A6.1 6.7 0 1 0 1027.27 1813.85Z" fill="#00ffff" fill-rule="evenodd"/>
<path d="M1102.25 1816.85A16.0 15.6 0 1 0 1134.25 1816.85A16.0 15.6 0 1 0 1102.25 1816.85ZM1112.15 1816.85A6.1 6.7 0 1 0 1124.35 1816.85A6.1 6.7 0 1 0 1112.15 1816.85Z" fill="#00ffff" fill-rule="evenodd"/>
<path d="M1187.13 1819.86A16.0 15.6 0 1 0 1219.13 1819.86A16.0 15.6 0 1 0 1187.13 1819.86ZM1197.03 1819.86A6.1 6.7 0 1 0 1209.23 1819.86A6.1 6.7 0 1 0 1197.03 1819.86Z" fill="#00ffff" fill-rule="evenodd"/>
<path d="M1272.01 1822.87A16.0 15.6 0 1 0 1304.01 1822.87A16.0 15.6 0 1 0 1272.01 1822.87ZM1281.91 1822.87A6.1 6.7 0 1 0 1294.11 1822.87A6.1 6.7 0 1 0 1281.91 1822.87Z" fill="#00ffff" fill-rule="evenodd"/>
<path d="M1356.89 1825.28A16.0 15.6 0 1 0 1388.89 1825.28A16.0 15.6 0 1 0 1356.89 1825.28ZM1366.79 1825.28A6.1 6.7 0 1 0 1378.99 1825.28A6.1 6.7 0 1 0 1366.79 1825.28Z" fill="#00ffff" fill-rule="evenodd"/>
<path d="M1441.77 1833.70A16.0 15.6 0 1 0 1473.77 1833.70A16.0 15.6 0 1 0 1441.77 1833.70ZM1451.67 1833.70A6.1 6.7 0 1 0 1463.87 1833.70A6.1 6.7 0 1 0 1451.67 1833.70Z" fill="#00ffff" fill-rule="evenodd"/>
<path d="M269.45 2439.12 L354.33 2047.95 L439.21 1951.06 L524.09 1825.28 L608.97 1807.23 L693.85 1810.23 L778.73 1813.24 L863.61 1816.85 L948.49 1819.26 L1033.37 1822.27 L1118.25 1825.28 L1203.13 1828.89 L1288.01 1833.10 L1372.89 1836.11 L1457.77 1839.12" fill="none" stroke="#ff0000" stroke-width="8.9" stroke-linejoin="miter" stroke-miterlimit="10"/>
<path d="M253.45 2439.12A16.0 15.6 0 1 0 285.45 2439.12A16.0 15.6 0 1 0 253.45 2439.12ZM263.35 2439.12A6.1 6.7 0 1 0 275.55 2439.12A6.1 6.7 0 1 0 263.35 2439.12Z" fill="#ff0000" fill-rule="evenodd"/>
<path d="M338.33 2047.95A16.0 15.6 0 1 0 370.33 2047.95A16.0 15.6 0 1 0 338.33 2047.95ZM348.23 2047.95A6.1 6.7 0 1 0 360.43 2047.95A6.1 6.7 0 1 0 348.23 2047.95Z" fill="#ff0000" fill-rule="evenodd"/>
<path d="M423.21 1951.06A16.0 15.6 0 1 0 455.21 1951.06A16.0 15.6 0 1 0 423.21 1951.06ZM433.11 1951.06A6.1 6.7 0 1 0 445.31 1951.06A6.1 6.7 0 1 0 433.11 1951.06Z" fill="#ff0000" fill-rule="evenodd"/>
<path d="M508.09 1825.28A16.0 15.6 0 1 0 540.09 1825.28A16.0 15.6 0 1 0 508.09 1825.28ZM517.99 1825.28A6.1 6.7 0 1 0 530.19 1825.28A6.1 6.7 0 1 0 517.99 1825.28Z" fill="#ff0000" fill-rule="evenodd"/>
<path d="M592.97 1807.23A16.0 15.6 0 1 0 624.97 1807.23A16.0 15.6 0 1 0 592.97 1807.23ZM602.87 1807.23A6.1 6.7 0 1 0 615.07 1807.23A6.1 6.7 0 1 0 602.87 1807.23Z" fill="#ff0000" fill-rule="evenodd"/>
<path d="M677.85 1810.23A16.0 15.6 0 1 0 709.85 1810.23A16.0 15.6 0 1 0 677.85 1810.23ZM687.75 1810.23A6.1 6.7 0 1 0 699.95 1810.23A6.1 6.7 0 1 0 687.75 1810.23Z" fill="#ff0000" fill-rule="evenodd"/>
<path d="M762.73 1813.24A16.0 15.6 0 1 0 794.73 1813.24A16.0 15.6 0 1 0 762.73 1813.24ZM772.63 1813.24A6.1 6.7 0 1 0 784.83 1813.24A6.1 6.7 0 1 0 772.63 1813.24Z" fill="#ff0000" fill-rule="evenodd"/>
<path d="M847.61 1816.85A16.0 15.6 0 1 0 879.61 1816.85A16.0 15.6 0 1 0 847.61 1816.85ZM857.51 1816.85A6.1 6.7 0 1 0 869.71 1816.85A6.1 6.7 0 1 0 857.51 1816.85Z" fill="#ff0000" fill-rule="evenodd"/>
<path d="M932.49 1819.26A16.0 15.6 0 1 0 964.49 1819.26A16.0 15.6 0 1 0 932.49 1819.26ZM942.39 1819.26A6.1 6.7 0 1 0 954.59 1819.26A6.1 6.7 0 1 0 942.39 1819.26Z" fill="#ff0000" fill-rule="evenodd"/>
<path d="M1017.37 1822.27A16.0 15.6 0 1 0 1049.37 1822.27A16.0 15.6 0 1 0 1017.37 1822.27ZM1027.27 1822.27A6.1 6.7 0 1 0 1039.47 1822.27A6.1 6.7 0 1 0 1027.27 1822.27Z" fill="#ff0000" fill-rule="evenodd"/>
<path d="M1102.25 1825.28A16.0 15.6 0 1 0 1134.25 1825.28A16.0 15.6 0 1 0 1102.25 1825.28ZM1112.15 1825.28A6.1 6.7 0 1 0 1124.35 1825.28A6.1 6.7 0 1 0 1112.15 1825.28Z" fill="#ff0000" fill-rule="evenodd"/>
<path d="M1187.13 1828.89A16.0 15.6 0 1 0 1219.13 1828.89A16.0 15.6 0 1 0 1187.13 1828.89ZM1197.03 1828.89A6.1 6.7 0 1 0 1209.23 1828.89A6.1 6.7 0 1 0 1197.03 1828.89Z" fill="#ff0000" fill-rule="evenodd"/>
<path d="M1272.01 1833.10A16.0 15.6 0 1 0 1304.01 1833.10A16.0 15.6 0 1 0 1272.01 1833.10ZM1281.91 1833.10A6.1 6.7 0 1 0 1294.11 1833.10A6.1 6.7 0 1 0 1281.91 1833.10Z" fill="#ff0000" fill-rule="evenodd"/>
<path d="M1356.89 1836.11A16.0 15.6 0 1 0 1388.89 1836.11A16.0 15.6 0 1 0 1356.89 1836.11ZM1366.79 1836.11A6.1 6.7 0 1 0 1378.99 1836.11A6.1 6.7 0 1 0 1366.79 1836.11Z" fill="#ff0000" fill-rule="evenodd"/>
<path d="M1441.77 1839.12A16.0 15.6 0 1 0 1473.77 1839.12A16.0 15.6 0 1 0 1441.77 1839.12ZM1451.67 1839.12A6.1 6.7 0 1 0 1463.87 1839.12A6.1 6.7 0 1 0 1451.67 1839.12Z" fill="#ff0000" fill-rule="evenodd"/>
<path d="M269.45 2337.71 L354.33 2065.40 L439.21 1903.51 L524.09 1753.67 L608.97 1666.40 L693.85 1620.07 L778.73 1602.01 L863.61 1599.60 L948.49 1605.62 L1033.37 1608.03 L1118.25 1611.04 L1203.13 1614.65 L1288.01 1617.06 L1372.89 1620.07 L1457.77 1623.07" fill="none" stroke="#0000ff" stroke-width="8.9" stroke-linejoin="miter" stroke-miterlimit="10"/>
<path d="M269.45 2320.21V2355.21M251.95 2337.71H286.95M255.94 2324.21L282.96 2351.22M255.94 2351.22L282.96 2324.21" stroke="#0000ff" stroke-width="8.9" fill="none"/>
<path d="M354.33 2047.90V2082.90M336.83 2065.40H371.83M340.82 2051.89L367.84 2078.90M340.82 2078.90L367.84 2051.89" stroke="#0000ff" stroke-width="8.9" fill="none"/>
<path d="M439.21 1886.01V1921.01M421.71 1903.51H456.71M425.70 1890.01L452.72 1917.02M425.70 1917.02L452.72 1890.01" stroke="#0000ff" stroke-width="8.9" fill="none"/>
<path d="M524.09 1736.17V1771.17M506.59 1753.67H541.59M510.58 1740.16L537.60 1767.17M510.58 1767.17L537.60 1740.16" stroke="#0000ff" stroke-width="8.9" fill="none"/>
<path d="M608.97 1648.90V1683.90M591.47 1666.40H626.47M595.46 1652.90L622.48 1679.91M595.46 1679.91L622.48 1652.90" stroke="#0000ff" stroke-width="8.9" fill="none"/>
<path d="M693.85 1602.57V1637.57M676.35 1620.07H711.35M680.34 1606.56L707.36 1633.57M680.34 1633.57L707.36 1606.56" stroke="#0000ff" stroke-width="8.9" fill="none"/>
<path d="M778.73 1584.51V1619.51M761.23 1602.01H796.23M765.22 1588.51L792.24 1615.52M765.22 1615.52L792.24 1588.51" stroke="#0000ff" stroke-width="8.9" fill="none"/>
<path d="M863.61 1582.10V1617.10M846.11 1599.60H881.11M850.10 1586.10L877.12 1613.11M850.10 1613.11L877.12 1586.10" stroke="#0000ff" stroke-width="8.9" fill="none"/>
<path d="M948.49 1588.12V1623.12M930.99 1605.62H965.99M934.98 1592.12L962.00 1619.13M934.98 1619.13L962.00 1592.12" stroke="#0000ff" stroke-width="8.9" fill="none"/>
<path d="M1033.37 1590.53V1625.53M1015.87 1608.03H1050.87M1019.86 1594.52L1046.88 1621.54M1019.86 1621.54L1046.88 1594.52" stroke="#0000ff" stroke-width="8.9" fill="none"/>
<path d="M1118.25 1593.54V1628.54M1100.75 1611.04H1135.75M1104.74 1597.53L1131.76 1624.54M1104.74 1624.54L1131.76 1597.53" stroke="#0000ff" stroke-width="8.9" fill="none"/>
<path d="M1203.13 1597.15V1632.15M1185.63 1614.65H1220.63M1189.62 1601.14L1216.64 1628.16M1189.62 1628.16L1216.64 1601.14" stroke="#0000ff" stroke-width="8.9" fill="none"/>
<path d="M1288.01 1599.56V1634.56M1270.51 1617.06H1305.51M1274.50 1603.55L1301.52 1630.56M1274.50 1630.56L1301.52 1603.55" stroke="#0000ff" stroke-width="8.9" fill="none"/>
<path d="M1372.89 1602.57V1637.57M1355.39 1620.07H1390.39M1359.38 1606.56L1386.40 1633.57M1359.38 1633.57L1386.40 1606.56" stroke="#0000ff" stroke-width="8.9" fill="none"/>
<path d="M1457.77 1605.57V1640.57M1440.27 1623.07H1475.27M1444.26 1609.57L1471.28 1636.58M1444.26 1636.58L1471.28 1609.57" stroke="#0000ff" stroke-width="8.9" fill="none"/>
<path d="M269.45 2280.84 L354.33 1898.10 L439.21 1742.83 L524.09 1591.18 L608.97 1525.58 L693.85 1514.75 L778.73 1517.76 L863.61 1523.18 L948.49 1529.19 L1033.37 1535.21 L1118.25 1541.23 L1203.13 1547.25 L1288.01 1550.26 L1372.89 1552.66 L1457.77 1555.67" fill="none" stroke="#000000" stroke-width="8.9" stroke-linejoin="miter" stroke-miterlimit="10"/>
<polygon points="269.45,2257.04 275.47,2272.56 292.09,2273.49 279.18,2284.00 283.44,2300.10 269.45,2291.08 255.46,2300.10 259.72,2284.00 252.31,2281.56 252.31,2272.87 263.43,2272.56" fill="#000000" stroke="#000000" stroke-width="1.8" stroke-linejoin="round"/>
<polygon points="354.33,1874.30 360.35,1889.82 376.97,1890.74 364.06,1901.26 368.32,1917.35 354.33,1908.33 340.34,1917.35 344.60,1901.26 337.19,1898.81 337.19,1890.12 348.31,1889.82" fill="#000000" stroke="#000000" stroke-width="1.8" stroke-linejoin="round"/>
<polygon points="439.21,1719.03 445.23,1734.55 461.85,1735.48 448.94,1746.00 453.20,1762.09 439.21,1753.07 425.22,1762.09 429.48,1746.00 422.07,1743.55 422.07,1734.86 433.19,1734.55" fill="#000000" stroke="#000000" stroke-width="1.8" stroke-linejoin="round"/>
<polygon points="524.09,1567.38 530.11,1582.90 546.73,1583.82 533.82,1594.34 538.08,1610.43 524.09,1601.41 510.10,1610.43 514.36,1594.34 506.95,1591.89 506.95,1583.21 518.07,1582.90" fill="#000000" stroke="#000000" stroke-width="1.8" stroke-linejoin="round"/>
<polygon points="608.97,1501.78 614.99,1517.30 631.61,1518.23 618.70,1528.75 622.96,1544.84 608.97,1535.82 594.98,1544.84 599.24,1528.75 591.83,1526.30 591.83,1517.61 602.95,1517.30" fill="#000000" stroke="#000000" stroke-width="1.8" stroke-linejoin="round"/>
<polygon points="693.85,1490.95 699.87,1506.47 716.49,1507.40 703.58,1517.91 707.84,1534.01 693.85,1524.98 679.86,1534.01 684.12,1517.91 676.71,1515.46 676.71,1506.78 687.83,1506.47" fill="#000000" stroke="#000000" stroke-width="1.8" stroke-linejoin="round"/>
<polygon points="778.73,1493.96 784.75,1509.48 801.37,1510.40 788.46,1520.92 792.72,1537.01 778.73,1527.99 764.74,1537.01 769.00,1520.92 761.59,1518.47 761.59,1509.79 772.71,1509.48" fill="#000000" stroke="#000000" stroke-width="1.8" stroke-linejoin="round"/>
<polygon points="863.61,1499.38 869.63,1514.90 886.25,1515.82 873.34,1526.34 877.60,1542.43 863.61,1533.41 849.62,1542.43 853.88,1526.34 846.47,1523.89 846.47,1515.20 857.59,1514.90" fill="#000000" stroke="#000000" stroke-width="1.8" stroke-linejoin="round"/>
<polygon points="948.49,1505.39 954.51,1520.91 971.13,1521.84 958.22,1532.36 962.48,1548.45 948.49,1539.43 934.50,1548.45 938.76,1532.36 931.35,1529.91 931.35,1521.22 942.47,1520.91" fill="#000000" stroke="#000000" stroke-width="1.8" stroke-linejoin="round"/>
<polygon points="1033.37,1511.41 1039.39,1526.93 1056.01,1527.86 1043.10,1538.37 1047.36,1554.47 1033.37,1545.45 1019.38,1554.47 1023.64,1538.37 1016.23,1535.93 1016.23,1527.24 1027.35,1526.93" fill="#000000" stroke="#000000" stroke-width="1.8" stroke-linejoin="round"/>
<polygon points="1118.25,1517.43 1124.27,1532.95 1140.89,1533.88 1127.98,1544.39 1132.24,1560.48 1118.25,1551.46 1104.26,1560.48 1108.52,1544.39 1101.11,1541.94 1101.11,1533.26 1112.23,1532.95" fill="#000000" stroke="#000000" stroke-width="1.8" stroke-linejoin="round"/>
<polygon points="1203.13,1523.45 1209.15,1538.97 1225.77,1539.89 1212.86,1550.41 1217.12,1566.50 1203.13,1557.48 1189.14,1566.50 1193.40,1550.41 1185.99,1547.96 1185.99,1539.27 1197.11,1538.97" fill="#000000" stroke="#000000" stroke-width="1.8" stroke-linejoin="round"/>
<polygon points="1288.01,1526.46 1294.03,1541.98 1310.65,1542.90 1297.74,1553.42 1302.00,1569.51 1288.01,1560.49 1274.02,1569.51 1278.28,1553.42 1270.87,1550.97 1270.87,1542.28 1281.99,1541.98" fill="#000000" stroke="#000000" stroke-width="1.8" stroke-linejoin="round"/>
<polygon points="1372.89,1528.86 1378.91,1544.38 1395.53,1545.31 1382.62,1555.83 1386.88,1571.92 1372.89,1562.90 1358.90,1571.92 1363.16,1555.83 1355.75,1553.38 1355.75,1544.69 1366.87,1544.38" fill="#000000" stroke="#000000" stroke-width="1.8" stroke-linejoin="round"/>
<polygon points="1457.77,1531.87 1463.79,1547.39 1480.41,1548.32 1467.50,1558.84 1471.76,1574.93 1457.77,1565.91 1443.78,1574.93 1448.04,1558.84 1440.63,1556.39 1440.63,1547.70 1451.75,1547.39" fill="#000000" stroke="#000000" stroke-width="1.8" stroke-linejoin="round"/></g>
<rect x="926.35" y="2057.75" width="360.20" height="281.10" fill="#fff" stroke="#262626" stroke-width="8.3"/>
<g shape-rendering="crispEdges"><line x1="945.2" y1="2097.80" x2="1071.2" y2="2097.80" stroke="#00ffff" stroke-width="8.9"/>
<path d="M993.50 2097.80A16.0 15.6 0 1 0 1025.50 2097.80A16.0 15.6 0 1 0 993.50 2097.80ZM1003.40 2097.80A6.1 6.7 0 1 0 1015.60 2097.80A6.1 6.7 0 1 0 1003.40 2097.80Z" fill="#00ffff" fill-rule="evenodd"/></g>
<text x="1078.80" y="2118.60" class="lg">LDA</text>
<g shape-rendering="crispEdges"><line x1="945.2" y1="2164.90" x2="1071.2" y2="2164.90" stroke="#ff0000" stroke-width="8.9"/>
<path d="M993.50 2164.90A16.0 15.6 0 1 0 1025.50 2164.90A16.0 15.6 0 1 0 993.50 2164.90ZM1003.40 2164.90A6.1 6.7 0 1 0 1015.60 2164.90A6.1 6.7 0 1 0 1003.40 2164.90Z" fill="#ff0000" fill-rule="evenodd"/></g>
<text x="1078.80" y="2185.70" class="lg">SLPP</text>
<g shape-rendering="crispEdges"><line x1="945.2" y1="2232.00" x2="1071.2" y2="2232.00" stroke="#0000ff" stroke-width="8.9"/>
<path d="M1009.50 2214.50V2249.50M992.00 2232.00H1027.00M995.99 2218.49L1023.01 2245.51M995.99 2245.51L1023.01 2218.49" stroke="#0000ff" stroke-width="8.9" fill="none"/></g>
<text x="1078.80" y="2252.80" class="lg">SGDA</text>
<g shape-rendering="crispEdges"><line x1="945.2" y1="2299.10" x2="1071.2" y2="2299.10" stroke="#000000" stroke-width="8.9"/>
<polygon points="1009.50,2275.30 1015.52,2290.82 1032.14,2291.75 1019.23,2302.26 1023.49,2318.35 1009.50,2309.33 995.51,2318.35 999.77,2302.26 992.36,2299.81 992.36,2291.13 1003.48,2290.82" fill="#000000" stroke="#000000" stroke-width="1.8" stroke-linejoin="round"/></g>
<text x="1078.80" y="2319.90" class="lg">GDA-SS</text>
<text transform="translate(75.90,1165.25) rotate(-90)" class="lb">Overall Development Data accuracy</text><path d="M54.96 46.90A11.5 8.9 0 1 0 77.96 46.90A11.5 8.9 0 1 0 54.96 46.90ZM59.71 46.90A6.75 3.4 0 1 0 73.21 46.90A6.75 3.4 0 1 0 59.71 46.90ZM30.87 74.94A11.5 8.9 0 1 0 53.87 74.94A11.5 8.9 0 1 0 30.87 74.94ZM35.62 74.94A6.75 3.4 0 1 0 49.12 74.94A6.75 3.4 0 1 0 35.62 74.94ZM30.86 46.07L77.97 68.20L77.97 74.70L30.86 52.60Z" fill="#262626" fill-rule="evenodd"/>
<text transform="translate(75.90,2553.35) rotate(-90)" class="lb">Overall Development Data accuracy</text><path d="M54.96 1435.00A11.5 8.9 0 1 0 77.96 1435.00A11.5 8.9 0 1 0 54.96 1435.00ZM59.71 1435.00A6.75 3.4 0 1 0 73.21 1435.00A6.75 3.4 0 1 0 59.71 1435.00ZM30.87 1463.04A11.5 8.9 0 1 0 53.87 1463.04A11.5 8.9 0 1 0 30.87 1463.04ZM35.62 1463.04A6.75 3.4 0 1 0 49.12 1463.04A6.75 3.4 0 1 0 35.62 1463.04ZM30.86 1434.17L77.97 1456.30L77.97 1462.80L30.86 1440.70Z" fill="#262626" fill-rule="evenodd"/>
<text x="449.8" y="1240.1" class="lb" dx="-4.3">Reduced Dimensiondality</text>
<text x="449.0" y="2629.2" class="lb" dx="-4.3">Reduced Dimensiondality</text>
<text x="695.9" y="1353.5" class="cap">(</text><text x="723" y="1353.5" class="cap" font-weight="bold">a</text><text x="762.9" y="1353.5" class="cap">)</text>
<text x="691.8" y="2742.5" class="cap">(</text><text x="719" y="2742.5" class="cap" font-weight="bold">b</text><text x="766.9" y="2742.5" class="cap">)</text>
</svg></body></html>
